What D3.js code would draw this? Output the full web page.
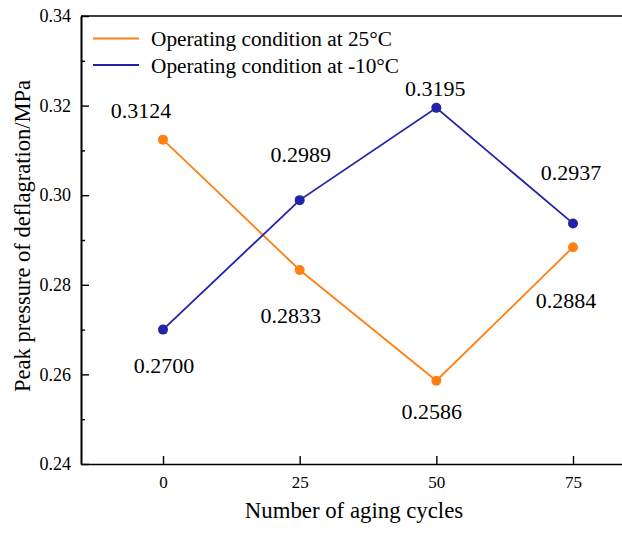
<!DOCTYPE html>
<html>
<head>
<meta charset="utf-8">
<script src="https://cdn.jsdelivr.net/npm/d3@7"></script>
<style>
  html, body { margin: 0; padding: 0; background: #fff; }
</style>
</head>
<body>
<svg id="chart" width="622" height="534"></svg>
<script>
// Aging cycles on the x axis
const cycles = [0, 25, 50, 75];
// Peak deflagration pressure (MPa) for each operating condition
const warmValues = [0.3124, 0.2833, 0.2586, 0.2884];
const coldValues = [0.2700, 0.2989, 0.3195, 0.2937];
const seriesNames = ["Operating condition at 25°C", "Operating condition at -10°C"];
const yMajorTicks = [0.24, 0.26, 0.28, 0.30, 0.32, 0.34];
const yMinorTicks = [0.25, 0.27, 0.29, 0.31, 0.33];

// Label placement (pixel offsets from each point, baseline-relative)
const warmLabelOffsets = [[-22, -22], [-9, 53], [-4.5, 38], [-7, 61]];
const coldLabelOffsets = [[1, 43], [1, -38], [-1, -12], [-2, -43]];

const SERIF = "Liberation Serif";

const svg = d3.select("#chart")
  .style("display", "block")
  .style("font-family", SERIF);
const plotLeft = 81, plotTop = 16, plotBottom = 464;
const pxPerUnit = 5.4667;

const x = d3.scaleLinear().domain([-15, 90]).range([plotLeft, plotLeft + 105 * pxPerUnit]);
const y = d3.scaleLinear().domain([0.24, 0.34]).range([plotBottom, plotTop]);

// Axes
const yAxis = d3.axisLeft(y).tickValues(yMajorTicks).tickFormat(d3.format(".2f"))
  .tickSizeInner(-8).tickSizeOuter(0).tickPadding(10);
const yMinor = d3.axisLeft(y).tickValues(yMinorTicks).tickFormat("")
  .tickSizeInner(-4).tickSizeOuter(0);
const xAxis = d3.axisBottom(x).tickValues(cycles).tickFormat(d3.format("d"))
  .tickSizeInner(-8).tickSizeOuter(0).tickPadding(12);

const gx = svg.append("g").attr("transform", `translate(0,${plotBottom})`).call(xAxis);
const gy = svg.append("g").attr("transform", `translate(${plotLeft},0)`).call(yAxis);
const gym = svg.append("g").attr("transform", `translate(${plotLeft},0)`).call(yMinor);

[gx, gy, gym].forEach(g => {
  g.attr("font-family", SERIF);
  g.select(".domain").attr("stroke", "#000").attr("stroke-width", 1.6);
  g.selectAll(".tick line").attr("stroke", "#000").attr("stroke-width", 1.4);
  g.selectAll(".tick text").attr("fill", "#000")
    .style("font-family", SERIF).style("font-size", "17px");
});
gy.selectAll(".tick text").style("font-size", "18px");

// Top frame line
svg.append("line")
  .attr("x1", plotLeft).attr("x2", x.range()[1])
  .attr("y1", y(0.34)).attr("y2", y(0.34))
  .attr("stroke", "#000").attr("stroke-width", 1.6);

// Axis titles
svg.append("text")
  .attr("x", 354).attr("y", 518)
  .attr("text-anchor", "middle")
  .style("font-family", SERIF)
  .style("font-size", "22.8px")
  .text("Number of aging cycles");

svg.append("text")
  .attr("transform", "translate(30,236) rotate(-90)")
  .attr("text-anchor", "middle")
  .style("font-family", SERIF)
  .style("font-size", "22.5px")
  .text("Peak pressure of deflagration/MPa");

// Series
const series = [
  { name: seriesNames[0], values: warmValues, color: "#ff8010", offsets: warmLabelOffsets },
  { name: seriesNames[1], values: coldValues, color: "#2323a8", offsets: coldLabelOffsets }
];

const line = d3.line().x((d, i) => x(cycles[i])).y(d => y(d));

series.forEach(s => {
  svg.append("path")
    .datum(s.values)
    .attr("fill", "none")
    .attr("stroke", s.color)
    .attr("stroke-width", 1.8)
    .attr("d", line);

  svg.selectAll(null)
    .data(s.values)
    .enter().append("circle")
    .attr("cx", (d, i) => x(cycles[i]))
    .attr("cy", d => y(d))
    .attr("r", 5)
    .attr("fill", s.color);

  svg.selectAll(null)
    .data(s.values)
    .enter().append("text")
    .attr("x", (d, i) => x(cycles[i]) + s.offsets[i][0])
    .attr("y", (d, i) => y(d) + s.offsets[i][1])
    .attr("text-anchor", "middle")
    .style("font-family", SERIF)
    .style("font-size", "22px")
    .text(d => d.toFixed(4));
});

// Legend
const legend = svg.append("g");
series.forEach((s, i) => {
  const ly = 38.5 + i * 26.5;
  legend.append("line")
    .attr("x1", 93).attr("x2", 139)
    .attr("y1", ly).attr("y2", ly)
    .attr("stroke", s.color).attr("stroke-width", 1.8);
  legend.append("text")
    .attr("x", 151).attr("y", ly + 7.5)
    .style("font-family", SERIF)
    .style("font-size", "21.3px")
    .text(s.name);
});
</script>
</body>
</html>
